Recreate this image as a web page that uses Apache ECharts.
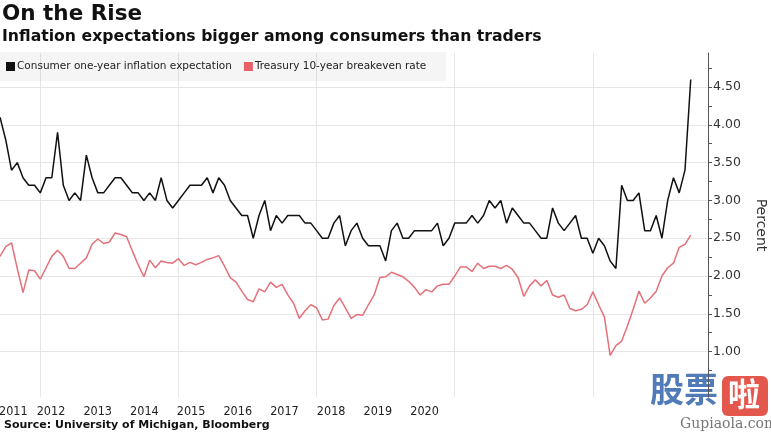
<!DOCTYPE html>
<html><head><meta charset="utf-8">
<script src="https://cdn.jsdelivr.net/npm/echarts@6/dist/echarts.min.js"></script>
<style>html,body{margin:0;padding:0;background:#fff}#c{width:771px;height:434px}</style>
</head><body><div id="c"></div>
<script>
const titleText = 'On the Rise';
const subtitleText = 'Inflation expectations bigger among consumers than traders';
const sourceText = 'Source: University of Michigan, Bloomberg';
const seriesNames = ['Consumer one-year inflation expectation', 'Treasury 10-year breakeven rate'];
const axisName = 'Percent';

// Monthly observations, May 2011 .. May 2021
const consumer = [
  4.1,3.8,3.4,3.5,3.3,3.2,3.2,3.1,3.3,3.3,3.9,3.2,3.0,3.1,3.0,3.6,3.3,3.1,3.1,3.2,
  3.3,3.3,3.2,3.1,3.1,3.0,3.1,3.0,3.3,3.0,2.9,3.0,3.1,3.2,3.2,3.2,3.3,3.1,3.3,3.2,
  3.0,2.9,2.8,2.8,2.5,2.8,3.0,2.6,2.8,2.7,2.8,2.8,2.8,2.7,2.7,2.6,2.5,2.5,2.7,2.8,
  2.4,2.6,2.7,2.5,2.4,2.4,2.4,2.2,2.6,2.7,2.5,2.5,2.6,2.6,2.6,2.6,2.7,2.4,2.5,2.7,
  2.7,2.7,2.8,2.7,2.8,3.0,2.9,3.0,2.7,2.9,2.8,2.7,2.7,2.6,2.5,2.5,2.9,2.7,2.6,2.7,
  2.8,2.5,2.5,2.3,2.5,2.4,2.2,2.1,3.2,3.0,3.0,3.1,2.6,2.6,2.8,2.5,3.0,3.3,3.1,3.4,
  4.6
];
const breakeven = [
  2.26,2.39,2.44,2.10,1.78,2.08,2.07,1.96,2.11,2.26,2.34,2.26,2.10,2.10,2.17,2.24,2.42,2.49,2.43,2.45,
  2.57,2.55,2.52,2.33,2.15,1.99,2.21,2.11,2.20,2.18,2.17,2.23,2.14,2.18,2.15,2.18,2.22,2.24,2.27,2.13,
  1.98,1.92,1.80,1.69,1.66,1.83,1.79,1.92,1.85,1.89,1.75,1.64,1.44,1.54,1.62,1.58,1.42,1.43,1.61,1.71,
  1.58,1.44,1.49,1.48,1.62,1.75,1.98,1.99,2.05,2.02,1.99,1.93,1.85,1.75,1.82,1.79,1.87,1.89,1.89,2.00,
  2.12,2.12,2.06,2.17,2.10,2.13,2.13,2.10,2.14,2.09,1.98,1.73,1.87,1.95,1.87,1.94,1.75,1.72,1.75,1.57,
  1.54,1.56,1.62,1.79,1.62,1.46,0.95,1.08,1.14,1.34,1.56,1.80,1.64,1.71,1.80,2.00,2.11,2.17,2.38,2.42,
  2.54
];
const yearLabels = [2011, 2012, 2013, 2014, 2015, 2016, 2017, 2018, 2019, 2020];
const yLabelValues = [1.0, 1.5, 2.0, 2.5, 3.0, 3.5, 4.0, 4.5];
const yTickValues = [0.5, 0.75, 1.0, 1.25, 1.5, 1.75, 2.0, 2.25, 2.5, 2.75, 3.0, 3.25, 3.5, 3.75, 4.0, 4.25, 4.5, 4.75];

// month-end categories: May 2011 .. Aug 2021 (axis runs a little past the last point)
const months = [];
for (let k = 0; k < 124; k++) {
  const m = 4 + k; // 0-based month from Jan 2011
  const y = 2011 + Math.floor(m / 12);
  const mm = (m % 12) + 1;
  months.push(y + '-' + (mm < 10 ? '0' + mm : mm));
}

const chart = echarts.init(document.getElementById('c'), null, { renderer: 'canvas' });
const Y_MIN = 0.4, Y_MAX = 4.95;
const condensed = "'DejaVu Sans Condensed', 'DejaVu Sans', sans-serif";
const option = {
  animation: false,
  backgroundColor: '#ffffff',
  textStyle: { fontFamily: 'DejaVu Sans' },
  grid: { left: 0, right: 63, top: 53, bottom: 37, containLabel: false, outerBoundsMode: 'none' },
  legend: {
    left: 0, top: 52,
    padding: [9, 20, 9, 6],
    backgroundColor: 'rgba(0,0,0,0.04)',
    icon: 'rect', itemWidth: 9, itemHeight: 9, itemGap: 12,
    textStyle: { fontSize: 10.5, color: '#222', fontFamily: 'DejaVu Sans', padding: [0, 0, 0, -3] },
    data: seriesNames
  },
  xAxis: [
    {
      type: 'category', data: months, boundaryGap: false,
      axisLine: { show: false }, axisTick: { show: false }, axisLabel: { show: false },
      splitLine: {
        show: true,
        interval: function (idx, val) {
          const p = String(val).split('-');
          return +p[1] === 12 && (+p[0] + 1) % 2 === 0;
        },
        lineStyle: { color: '#e6e6e6', width: 1 }
      }
    },
    {
      type: 'value', position: 'bottom', min: 2010.908, max: 2026.07,
      axisLine: { show: false }, axisTick: { show: false }, splitLine: { show: false },
      axisLabel: {
        customValues: yearLabels, margin: 8, fontSize: 12.5, color: '#222',
        fontFamily: condensed,
        formatter: function (v) { return v === yearLabels[0] ? '{f|' + v + '}' : String(v); },
        rich: { f: { fontSize: 12.5, color: '#222', fontFamily: condensed, padding: [0, 0, 0, 18] } }
      }
    }
  ],
  yAxis: [
    {
      type: 'value', position: 'right', min: Y_MIN, max: Y_MAX,
      axisLine: { show: true, lineStyle: { color: '#555', width: 1 } },
      axisTick: { show: true, customValues: yTickValues, length: 4, lineStyle: { color: '#555' } },
      axisLabel: {
        customValues: yLabelValues, margin: 5, fontSize: 12.5, color: '#333',
        formatter: function (v) { return v.toFixed(2); }
      },
      splitLine: { show: false },
      name: axisName, nameLocation: 'middle', nameRotate: -90, nameGap: 46,
      nameTextStyle: { fontSize: 14, color: '#333' }
    },
    {
      type: 'value', position: 'left', min: Y_MIN, max: Y_MAX,
      axisLine: { show: false }, axisLabel: { show: false },
      axisTick: { show: false, customValues: yLabelValues },
      splitLine: { show: true, lineStyle: { color: '#e6e6e6', width: 1 } }
    }
  ],
  series: [
    {
      name: seriesNames[0], type: 'line', data: consumer, xAxisIndex: 0, yAxisIndex: 0,
      showSymbol: false, symbol: 'none', lineStyle: { color: '#111', width: 1.5 }, itemStyle: { color: '#111' }, z: 3
    },
    {
      name: seriesNames[1], type: 'line', data: breakeven, xAxisIndex: 0, yAxisIndex: 0,
      showSymbol: false, symbol: 'none', lineStyle: { color: '#e4717a', width: 1.5 }, itemStyle: { color: '#e8606a' }, z: 2
    }
  ],
  graphic: [
    { type: 'text', left: 2, top: 3, style: { text: titleText, fontSize: 21.5, fontWeight: 'bold', fontFamily: 'DejaVu Sans', fill: '#111' } },
    { type: 'text', left: 2, top: 29, style: { text: subtitleText, fontSize: 15.7, fontWeight: 'bold', fontFamily: 'DejaVu Sans', fill: '#111' } },
    { type: 'text', left: 4, top: 420, style: { text: sourceText, fontSize: 11, fontWeight: 'bold', fontFamily: 'DejaVu Sans', fill: '#111' } },
    { type: 'text', left: 650, top: 372, style: { text: '股票', fontSize: 34, fontWeight: 'bold', fontFamily: 'Noto Sans CJK SC', fill: '#3d6cb0', opacity: 0.9 } },
    { type: 'rect', left: 722, top: 376, shape: { width: 46, height: 40, r: 6 }, style: { fill: '#e0453a', opacity: 0.9 } },
    { type: 'text', left: 728, top: 378, style: { text: '啦', fontSize: 32, fontWeight: 'bold', fontFamily: 'Noto Sans CJK SC', fill: '#ffffff' } },
    { type: 'text', left: 680, top: 417, style: { text: 'Gupiaola.com', fontSize: 14, fontFamily: 'DejaVu Serif', fill: '#777' } }
  ]
};
chart.setOption(option);
</script>
</body></html>
